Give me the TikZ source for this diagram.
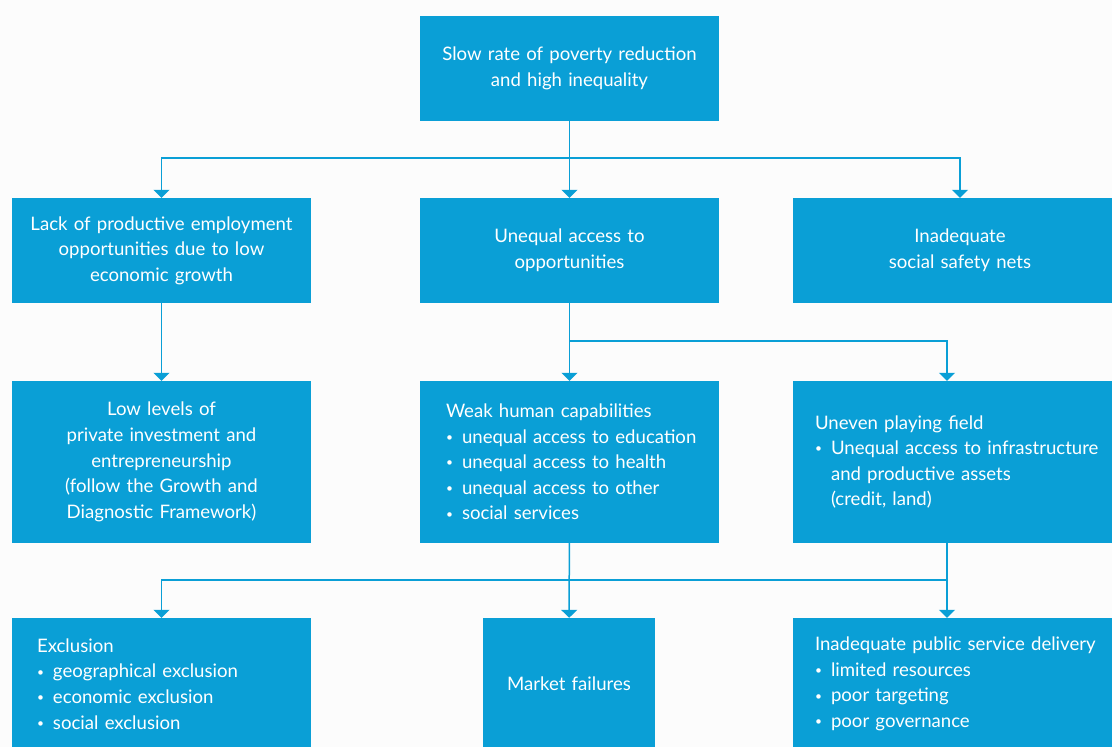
\documentclass[tikz,border=0pt]{standalone}
\usepackage{fontspec}
\setmainfont{Lato}
\usetikzlibrary{arrows.meta}
\definecolor{boxblue}{HTML}{0A9FD6}
\definecolor{paper}{HTML}{FCFCFC}
\newcommand{\bitem}{\makebox[16pt][l]{\raisebox{1.8pt}{\fontsize{12}{12}\selectfont\textbullet}}}
\newcommand{\bcont}{\hspace*{16pt}}
\tikzset{
    box/.style={fill=boxblue, text=white, inner sep=0pt, align=center,
        font=\fontsize{18.6}{25.6}\selectfont},
    lbox/.style={box, align=left},
    arr/.style={boxblue, line width=1.5pt, -{Triangle[width=16pt,length=8pt]}},
    link/.style={boxblue, line width=1.5pt}
}
\begin{document}
\begin{tikzpicture}[x=1pt,y=-1pt]
    \fill[paper] (0,0) rectangle (1112,747);
    \clip (0,0) rectangle (1112,747);
    % top
    \node[box, text width=299pt, minimum height=105pt] (slow) at (569.5,68.5)
        {Slow rate of poverty reduction\\and high inequality};
    % second row
    \node[box, text width=299pt, minimum height=105pt] (lack) at (161.5,250.5)
        {Lack of productive employment\\opportunities due to low\\economic growth};
    \node[box, text width=299pt, minimum height=105pt] (opp) at (569.5,250.5)
        {Unequal access to\\opportunities};
    \node[box, text width=334pt, minimum height=105pt] (safety) at (960,250.5)
        {Inadequate\\social safety nets};
    % third row
    \node[box, text width=299pt, minimum height=162pt] (lowinv) at (161.5,462)
        {Low levels of\\private investment and\\entrepreneurship\\(follow the Growth and\\Diagnostic Framework)};
    \node[lbox, inner xsep=26pt, text width=247pt, minimum height=162pt] (weak) at (569.5,462)
        {Weak human capabilities\\
        \bitem\mbox{unequal access to education}\\
        \bitem unequal access to health\\
        \bitem unequal access to other\\
        \bitem social services};
    \node[lbox, inner xsep=22pt, text width=290pt, minimum height=162pt] (uneven) at (960,462)
        {Uneven playing field\\
        \bitem Unequal access to infrastructure\\
        \bcont and productive assets\\
        \bcont (credit, land)};
    % bottom row
    \node[lbox, inner xsep=25pt, text width=249pt, minimum height=132pt] (excl) at (161.5,684)
        {Exclusion\\
        \bitem geographical exclusion\\
        \bitem economic exclusion\\
        \bitem social exclusion};
    \node[box, text width=172pt, minimum height=132pt] (market) at (569,684)
        {Market failures};
    \node[lbox, inner xsep=22pt, text width=290pt, minimum height=132pt] (public) at (960,684)
        {Inadequate public service delivery\\
        \bitem limited resources\\
        \bitem poor targeting\\
        \bitem poor governance};
    % connectors
    \coordinate (j1) at (569.5,158);
    \coordinate (j2) at (569.5,341);
    \coordinate (j3) at (569.5,580);
    \draw[arr] (slow) -- (opp);
    \draw[arr] (j1) -| (lack);
    \draw[arr] (j1) -| (safety);
    \draw[arr] (lack) -- (lowinv);
    \draw[arr] (opp) -- (weak);
    \draw[arr] (j2) -| ([xshift=-13pt]uneven.north);
    \draw[arr] (weak) -- (market);
    \draw[arr] (j3) -| (excl);
    \draw[link] (j3) -| ([xshift=-13pt]uneven.south);
    \draw[arr] ([xshift=-13pt]uneven.south) -- ([xshift=-13pt]public.north);
\end{tikzpicture}
\end{document}
